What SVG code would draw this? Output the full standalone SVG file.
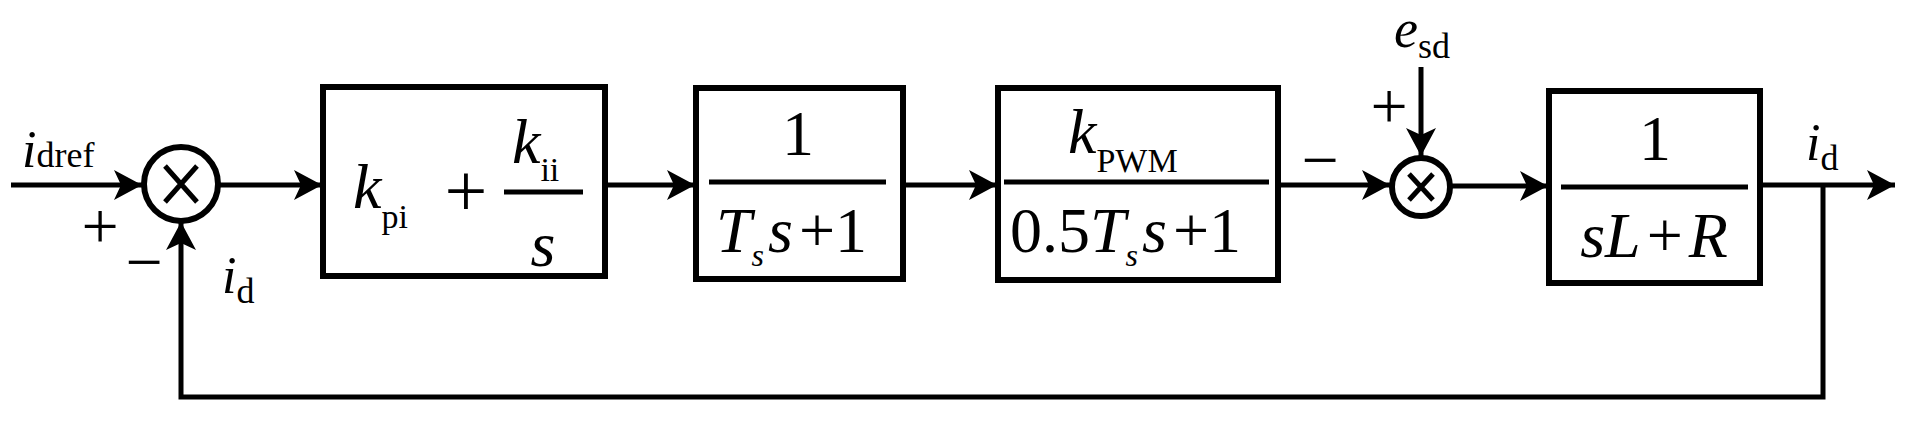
<svg xmlns="http://www.w3.org/2000/svg" width="1910" height="422" viewBox="0 0 1910 422" font-family="'Liberation Serif','DejaVu Serif','Times New Roman',serif">
<style>
.b{fill:#fff;stroke:#000;stroke-width:6}
.l{fill:none;stroke:#000;stroke-width:5}
text{font-family:'Liberation Serif','DejaVu Serif','Times New Roman',serif;fill:#000}
.i{font-style:italic}
</style>
<defs>
<marker id="a" markerUnits="userSpaceOnUse" markerWidth="30" markerHeight="30" refX="28" refY="15" orient="auto">
<path d="M0,0 L28,15 L0,30 L7,15 Z" fill="#000"/>
</marker>
</defs>
<rect width="1910" height="422" fill="#fff"/>
<g id="connectors">
<path class="l" d="M11,185 H142" marker-end="url(#a)"/>
<path class="l" d="M220,185 H322" marker-end="url(#a)"/>
<path class="l" d="M605,185 H695" marker-end="url(#a)"/>
<path class="l" d="M903,185 H997" marker-end="url(#a)"/>
<path class="l" d="M1278,185 H1390" marker-end="url(#a)"/>
<path class="l" d="M1421,67 V156" marker-end="url(#a)"/>
<path class="l" d="M1451,186 H1548" marker-end="url(#a)"/>
<path class="l" d="M1760,185 H1895" marker-end="url(#a)"/>
<path class="l" d="M1823,185 V397 H181 V222" marker-end="url(#a)"/>
</g>
<g id="sum1">
<circle cx="181" cy="184" r="37" class="b" stroke-width="5"/>
<path class="l" d="M165,166 L197,202 M197,166 L165,202"/>
</g>
<g id="sum2">
<circle cx="1421" cy="187" r="29" class="b" stroke-width="5"/>
<path class="l" d="M1409,174 L1433,200 M1433,174 L1409,200"/>
</g>
<g id="box1">
<rect class="b" x="323" y="87" width="282" height="189"/>
<text x="353" y="208" font-size="64"><tspan class="i">k</tspan><tspan font-size="34" dy="20">pi</tspan></text>
<text x="466" y="216" font-size="76" text-anchor="middle">+</text>
<line x1="504" y1="192" x2="583" y2="192" stroke="#000" stroke-width="5"/>
<text x="512" y="163" font-size="64"><tspan class="i">k</tspan><tspan font-size="34" dy="18">ii</tspan></text>
<text x="543" y="266" font-size="64" class="i" text-anchor="middle">s</text>
</g>
<g id="box2">
<rect class="b" x="696" y="88" width="207" height="191"/>
<text x="798" y="155" font-size="64" text-anchor="middle">1</text>
<line x1="709" y1="182" x2="886" y2="182" stroke="#000" stroke-width="5"/>
<text x="716" y="252" font-size="64"><tspan class="i">T</tspan><tspan class="i" font-size="32" dy="14">s</tspan><tspan class="i" dy="-14" dx="4">s</tspan><tspan dx="6">+1</tspan></text>
</g>
<g id="box3">
<rect class="b" x="998" y="88" width="280" height="192"/>
<text x="1068" y="153" font-size="64"><tspan class="i">k</tspan><tspan font-size="34" dy="19">PWM</tspan></text>
<line x1="1004" y1="182" x2="1269" y2="182" stroke="#000" stroke-width="5"/>
<text x="1010" y="252" font-size="64">0.5<tspan class="i">T</tspan><tspan class="i" font-size="32" dy="14">s</tspan><tspan class="i" dy="-14" dx="4">s</tspan><tspan dx="6">+1</tspan></text>
</g>
<g id="box4">
<rect class="b" x="1549" y="91" width="211" height="192"/>
<text x="1655" y="160" font-size="64" text-anchor="middle">1</text>
<line x1="1561" y1="187" x2="1748" y2="187" stroke="#000" stroke-width="5"/>
<text x="1654" y="257" font-size="64" text-anchor="middle"><tspan class="i">sL</tspan><tspan dx="6">+</tspan><tspan class="i" dx="6">R</tspan></text>
</g>
<g id="labels">
<text x="22" y="167" font-size="52"><tspan class="i">i</tspan><tspan font-size="36">dref</tspan></text>
<text x="100" y="248" font-size="66" text-anchor="middle">+</text>
<text x="144" y="284" font-size="66" text-anchor="middle">−</text>
<text x="222" y="293" font-size="52"><tspan class="i">i</tspan><tspan font-size="36" dy="10">d</tspan></text>
<text x="1320" y="182" font-size="66" text-anchor="middle">−</text>
<text x="1389" y="128" font-size="66" text-anchor="middle">+</text>
<text x="1394" y="47" font-size="54"><tspan class="i">e</tspan><tspan font-size="36" dy="11">sd</tspan></text>
<text x="1806" y="160" font-size="52"><tspan class="i">i</tspan><tspan font-size="36" dy="10">d</tspan></text>
</g>
</svg>
